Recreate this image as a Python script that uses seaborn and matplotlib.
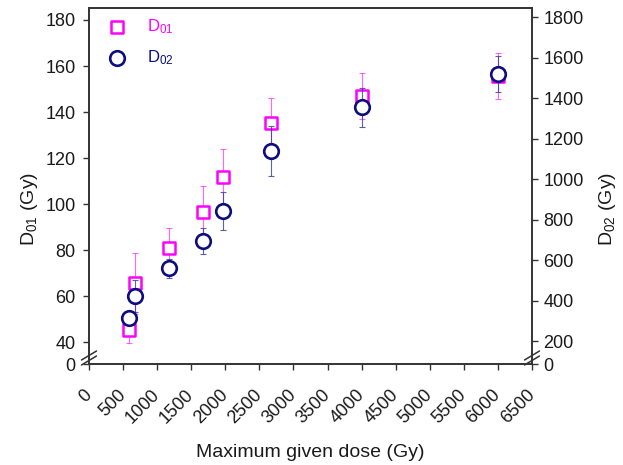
import numpy as np
import pandas as pd
import matplotlib
matplotlib.use("Agg")
import matplotlib.pyplot as plt
import seaborn as sns

# ---- data ----
dose = [590, 670, 1170, 1670, 1970, 2670, 4000, 6000]
d01 = [45.3, 65.6, 80.8, 96.8, 111.9, 135.1, 147.0, 155.5]
d01_err = [7.3, 13.3, 9.0, 11.0, 12.0, 11.0, 10.0, 10.0]
d02 = [312, 424, 559, 695, 842, 1140, 1355, 1519]
d02_err = [20, 80, 46, 65, 93, 125, 98, 90]
x_ticks = [0, 500, 1000, 1500, 2000, 2500, 3000, 3500, 4000, 4500, 5000, 5500, 6000, 6500]
left_ticks = [0, 40, 60, 80, 100, 120, 140, 160, 180]
right_ticks = [0, 200, 400, 600, 800, 1000, 1200, 1400, 1600, 1800]
labels = ["D$_{01}$", "D$_{02}$"]

MAG = "#ff00ff"
NAVY = "#0d0d80"
SPINE = "#333333"
TXT = "#1a1a1a"

sns.set_style("ticks")
plt.rcParams["font.family"] = ["Liberation Sans", "DejaVu Sans"]
plt.rcParams["mathtext.fontset"] = "custom"
plt.rcParams["mathtext.rm"] = "Liberation Sans"
plt.rcParams["mathtext.it"] = "Liberation Sans:italic"
plt.rcParams["mathtext.bf"] = "Liberation Sans:bold"
plt.rcParams["mathtext.default"] = "regular"

df = pd.DataFrame({"dose": dose, "d01": d01, "d01_err": d01_err,
                   "d02": d02, "d02_err": d02_err})

# broken-axis scales (compressed zone below the break)
def fwd_l(y):
    y = np.asarray(y, float)
    return np.where(y >= 40, y, 30.45 + y * (9.55 / 40))

def inv_l(z):
    z = np.asarray(z, float)
    return np.where(z >= 40, z, (z - 30.45) * (40 / 9.55))

def fwd_r(y):
    y = np.asarray(y, float)
    return np.where(y >= 200, y, 85 + y * (115 / 200))

def inv_r(z):
    z = np.asarray(z, float)
    return np.where(z >= 200, z, (z - 85) * (200 / 115))

fig = plt.figure(figsize=(6.23, 4.65), dpi=100)
ax = fig.add_axes([89 / 623, 1 - 364.3 / 465, 443 / 623, 356.3 / 465])
ax.set_yscale("function", functions=(fwd_l, inv_l))

ax.errorbar(df["dose"], df["d01"], yerr=df["d01_err"], fmt="none",
            ecolor=MAG, elinewidth=0.8, capsize=2.5, capthick=0.8, alpha=0.6, zorder=2)
sns.scatterplot(data=df, x="dose", y="d01", ax=ax, marker="s", s=72,
                color="white", edgecolor=MAG, linewidth=1.8, zorder=3,
                label=labels[0], legend=False)

ax2 = ax.twinx()
ax2.set_yscale("function", functions=(fwd_r, inv_r))
ax2.errorbar(df["dose"], df["d02"], yerr=df["d02_err"], fmt="none",
             ecolor="#3a3a95", elinewidth=0.8, capsize=2.5, capthick=0.8, alpha=0.8, zorder=2)
sns.scatterplot(data=df, x="dose", y="d02", ax=ax2, marker="o", s=110,
                color="white", edgecolor=NAVY, linewidth=1.9, zorder=3,
                label=labels[1], legend=False)

for a in (ax, ax2):
    if a.get_legend() is not None:
        a.get_legend().remove()

ax.set_xlim(0, 6500)
ax.set_ylim(0, 185.2)
ax2.set_ylim(0, 1846)
ax.set_xticks(x_ticks)
ax.set_xticklabels([str(t) for t in x_ticks], rotation=45, ha="right",
                   va="center", rotation_mode="anchor")
ax.set_yticks(left_ticks)
ax.set_yticklabels([str(t) for t in left_ticks])
ax2.set_yticks(right_ticks)
ax2.set_yticklabels([str(t) for t in right_ticks])

ax.tick_params(axis="x", direction="out", length=4.2, width=1, pad=16,
               labelsize=13, colors=SPINE, labelcolor=TXT, top=False)
ax.tick_params(axis="y", direction="out", length=4.2, width=1, pad=5.5,
               labelsize=13, colors=SPINE, labelcolor=TXT, right=False)
ax2.tick_params(axis="y", direction="out", length=4.2, width=1, pad=4,
                labelsize=13, colors=SPINE, labelcolor=TXT, left=False)

for a in (ax, ax2):
    for sp in a.spines.values():
        sp.set_color(SPINE)
        sp.set_linewidth(1.2)

ax.set_xlabel("Maximum given dose (Gy)", fontsize=14, color=TXT)
ax.xaxis.set_label_coords(0.5, -0.2245)
ax.set_ylabel(labels[0] + " (Gy)", fontsize=14, color=TXT)
ax.yaxis.set_label_coords(-0.1106, 0.436)
ax2.set_ylabel(labels[1] + " (Gy)", fontsize=14, color=TXT)
ax2.yaxis.set_label_coords(1.147, 0.436)

# axis-break marks
axw, axh = 443.0, 356.3
for xa in (0.0, 1.0):
    for dy in (-2.5, 2.5):
        ax.plot([xa - 7.5 / axw, xa + 7.5 / axw],
                [(6.3 + dy - 4.5) / axh, (6.3 + dy + 4.5) / axh],
                transform=ax.transAxes, color=SPINE, lw=1.1, clip_on=False, zorder=5)

h1 = ax.collections[-1]
h2 = ax2.collections[-1]
leg = ax2.legend([h1, h2], labels, loc="upper left",
                 bbox_to_anchor=(0.037, 0.975), frameon=False, fontsize=12,
                 handlelength=1.4, handletextpad=1.1, labelspacing=0.75,
                 borderaxespad=0, borderpad=0, labelcolor=[MAG, NAVY])

fig.savefig("out.png", dpi=100)
